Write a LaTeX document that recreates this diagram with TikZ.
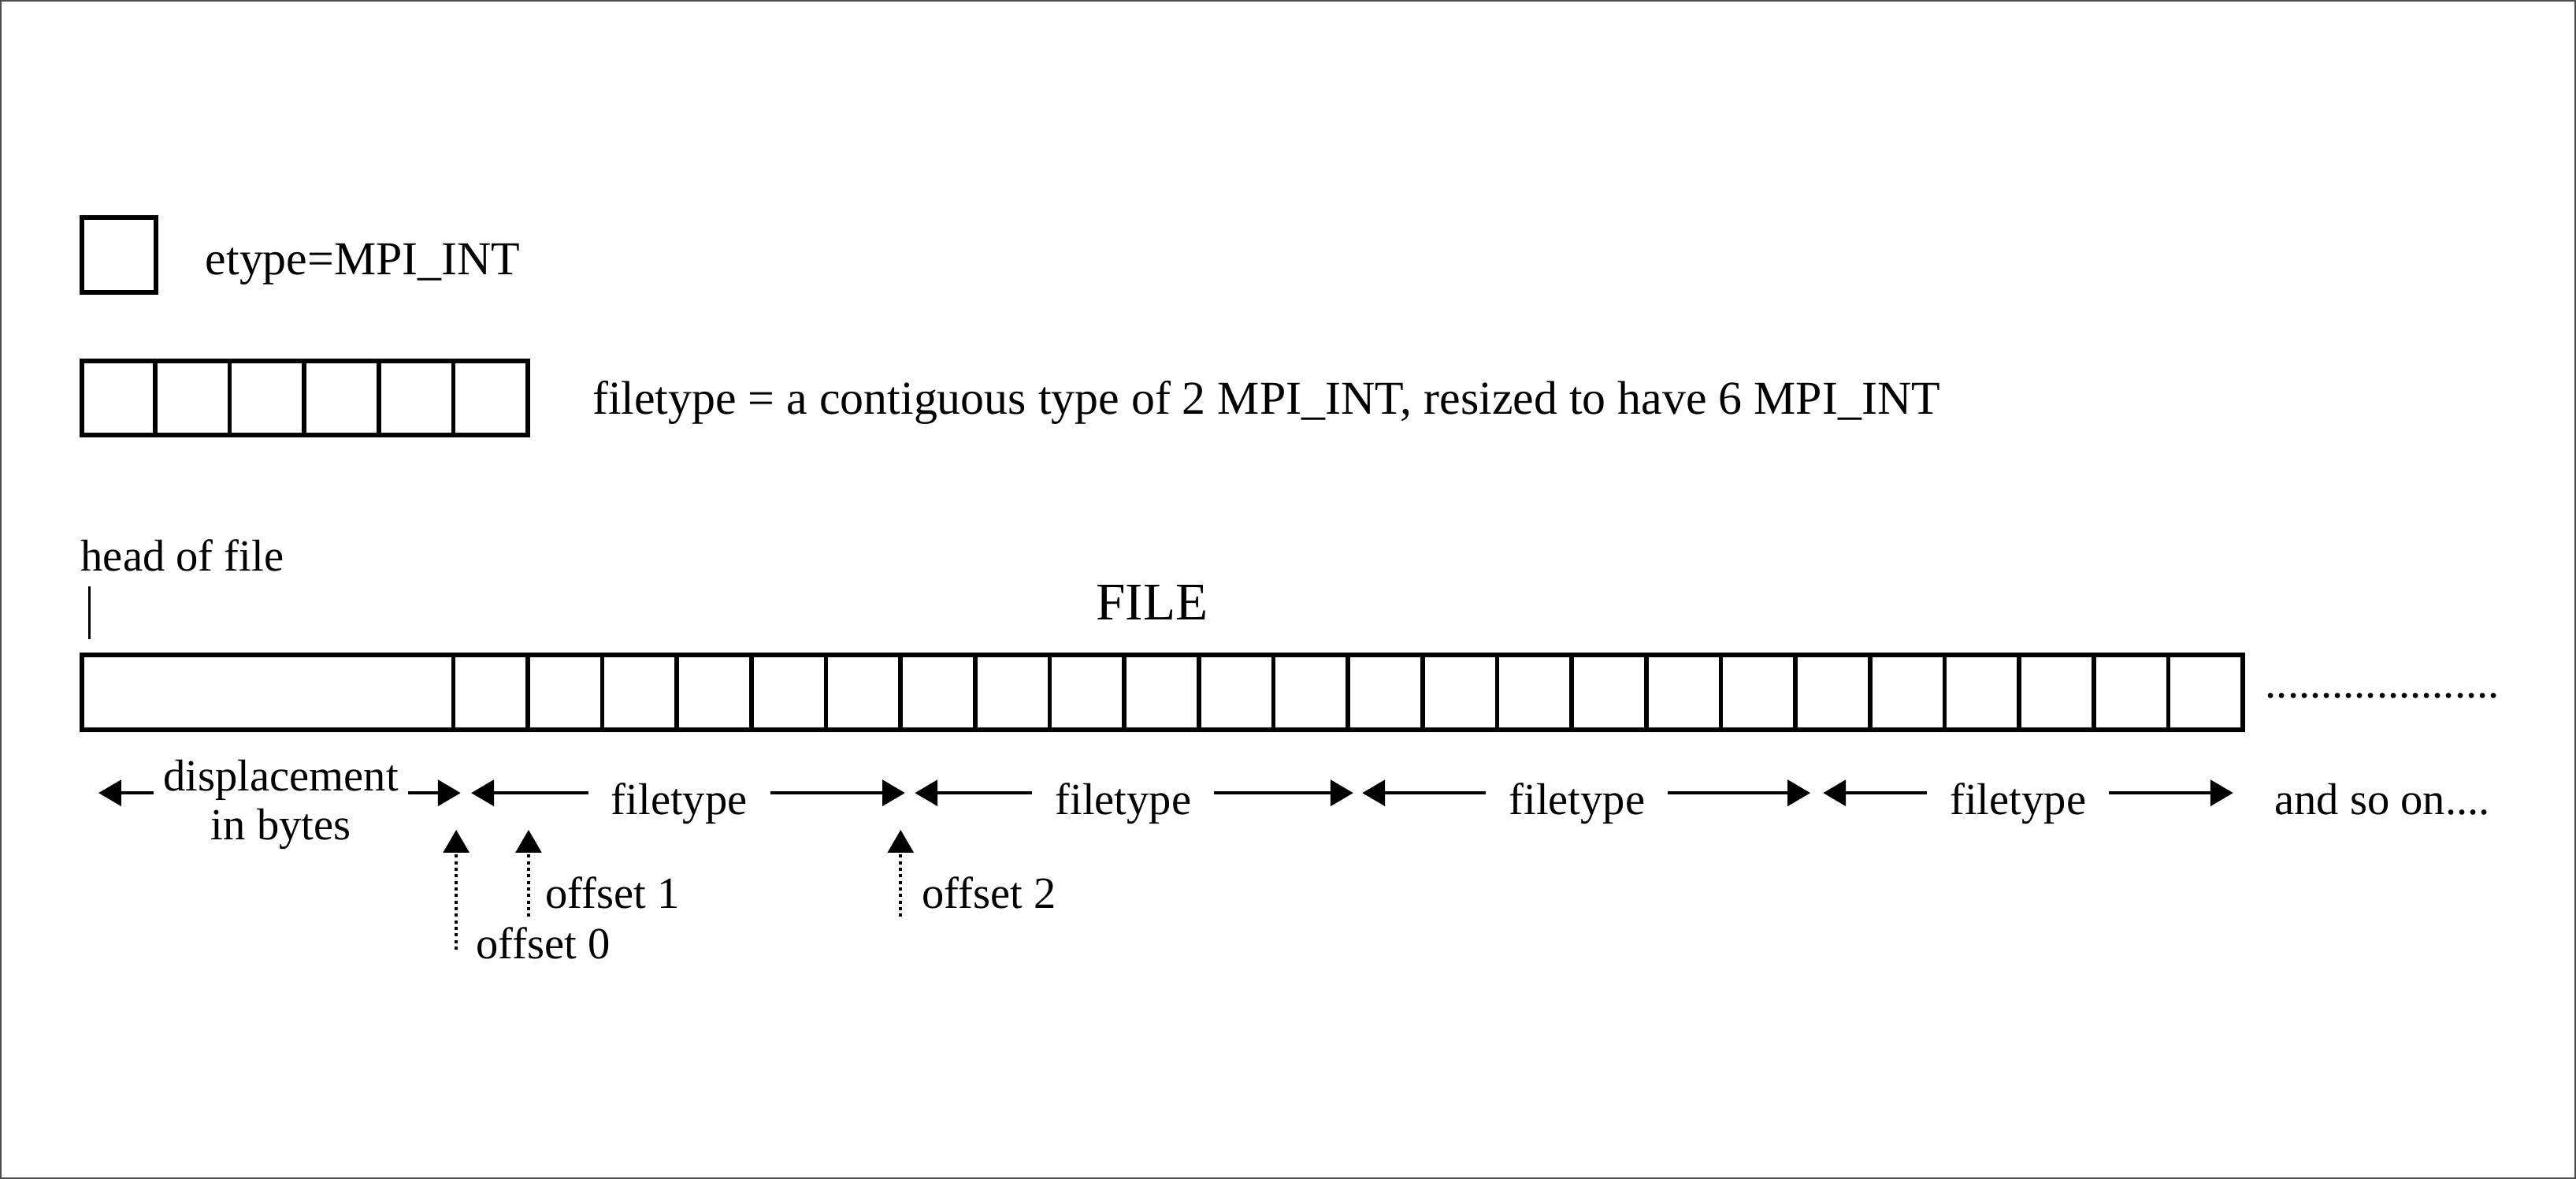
\documentclass[tikz,border=0pt]{standalone}
\usepackage{fontspec}
\setmainfont{Liberation Serif}
\usepackage{tikz}
\usetikzlibrary{positioning, arrows.meta}

\tikzset{
    lbl/.style={inner sep=0pt, font=\fontsize{17}{19}\selectfont},
    ftlbl/.style={lbl, anchor=base, inner xsep=0.3cm},
    cellbox/.style={line width=1.8pt},
    divider/.style={line width=1.7pt},
    arr/.style={line width=1.4pt, -{Triangle[length=8.7pt, width=9.8pt]}},
    offarr/.style={line width=1.2pt, dash pattern=on 1.2pt off 1.3pt,
                   -{Triangle[length=8.7pt, width=9.8pt]}},
}

\begin{document}
\begin{tikzpicture}
    \useasboundingbox (-1.078, 8.779) rectangle (33.467, -7.025);
    \draw[black!70, line width=0.6pt] (-1.07, 8.77) rectangle (33.459, -7.016);

    % legend
    \draw[cellbox] (0.02, 4.86) rectangle (1.01, 5.86);
    \node[lbl, font=\fontsize{18}{21}\selectfont, anchor=base west] at (1.67, 5.10) (etype) {etype=MPI\_INT};

    \draw[cellbox] (0.02, 2.945) rectangle (6, 3.945);
    \foreach \x in {1,...,5}
        \draw[divider] (\x, 2.945) -- (\x, 3.945);
    \node[lbl, font=\fontsize{18}{21}\selectfont, anchor=base west] at (6.86, 3.23) (ftype)
        {filetype = a contiguous type of 2 MPI\_INT, resized to have 6 MPI\_INT};

    % the file
    \node[lbl, anchor=base west] at (0, 1.13) (head) {head of file};
    \draw[line width=0.9pt] (0.116, 0.92) -- (0.116, 0.21);
    \node[lbl, font=\fontsize{20.2}{23}\selectfont, anchor=base] at (14.37, 0.475) (file) {FILE};

    \draw[line width=1.9pt] (0.02, 0) rectangle (29, -1);
    \foreach \x in {5,...,28}
        \draw[divider] (\x, 0) -- (\x, -1);
    \node[lbl, anchor=base] at (30.87, -0.58) (dots) {.....................};

    % extents
    \coordinate (dL)  at (0.243, -1.85);
    \coordinate (dR)  at (5.10,  -1.85);
    \coordinate (f1L) at (5.24,  -1.85);
    \coordinate (f1R) at (11.06, -1.85);
    \coordinate (f2L) at (11.19, -1.85);
    \coordinate (f2R) at (17.07, -1.85);
    \coordinate (f3L) at (17.19, -1.85);
    \coordinate (f3R) at (23.20, -1.85);
    \coordinate (f4L) at (23.37, -1.85);
    \coordinate (f4R) at (28.87, -1.85);

    \node[lbl, anchor=base, inner xsep=0.12cm] at (2.69, -1.82) (disp)  {displacement};
    \node[lbl, anchor=base]                    at (2.69, -2.48) (bytes) {in bytes};
    \node[ftlbl] at (8.03,   -2.14) (ft1) {filetype};
    \node[ftlbl] at (13.985, -2.14) (ft2) {filetype};
    \node[ftlbl] at (20.07,  -2.14) (ft3) {filetype};
    \node[ftlbl] at (25.985, -2.14) (ft4) {filetype};
    \node[lbl, anchor=base] at (30.87, -2.14) (more) {and so on....};

    \path[arr]
        (disp.west |- dL) edge (dL)
        (disp.east |- dR) edge (dR)
        (ft1.west |- f1L) edge (f1L)
        (ft1.east |- f1R) edge (f1R)
        (ft2.west |- f2L) edge (f2L)
        (ft2.east |- f2R) edge (f2R)
        (ft3.west |- f3L) edge (f3L)
        (ft3.east |- f3R) edge (f3R)
        (ft4.west |- f4L) edge (f4L)
        (ft4.east |- f4R) edge (f4R);

    % offsets
    \coordinate (o0t) at (5.04,  -2.345);
    \coordinate (o0b) at (5.04,  -3.95);
    \coordinate (o1t) at (6.01,  -2.345);
    \coordinate (o1b) at (6.01,  -3.51);
    \coordinate (o2t) at (11.0,  -2.345);
    \coordinate (o2b) at (11.0,  -3.51);

    \node[lbl, anchor=base west] at (5.30,  -4.07) (off0) {offset 0};
    \node[lbl, anchor=base west] at (6.23,  -3.40) (off1) {offset 1};
    \node[lbl, anchor=base west] at (11.28, -3.40) (off2) {offset 2};

    \path[offarr]
        (o0b) edge (o0t)
        (o1b) edge (o1t)
        (o2b) edge (o2t);
\end{tikzpicture}
\end{document}
